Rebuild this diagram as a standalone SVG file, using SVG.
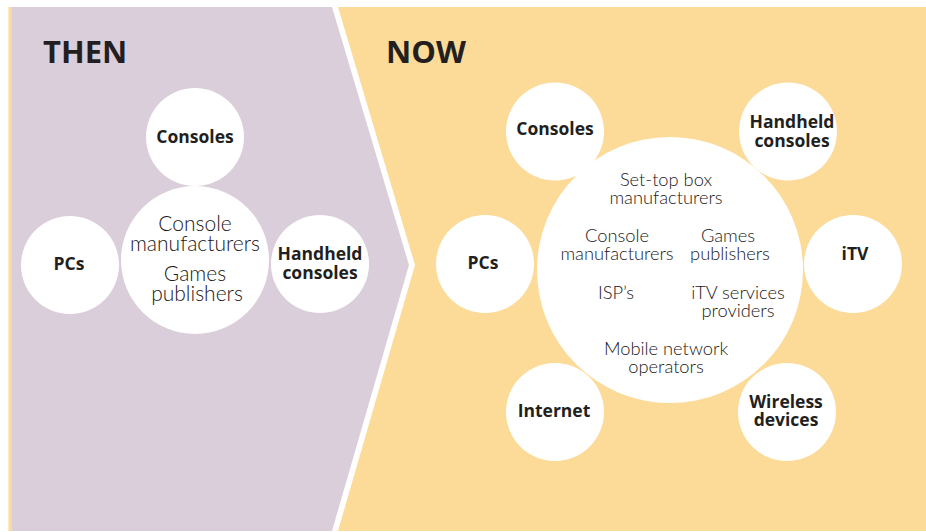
<svg xmlns="http://www.w3.org/2000/svg" width="926" height="532" viewBox="0 0 926 532">
<style>
.bg-y{fill:#FCDA98}
.bg-p{fill:#DBCEDB}
.c{fill:#FFFFFF}
.title{font-family:"Open Sans","Liberation Sans",sans-serif;font-weight:700;font-size:31px;fill:#231F20}
.lb{font-family:"Open Sans","Liberation Sans",sans-serif;font-weight:700;font-size:17.5px;fill:#231F20;text-anchor:middle}
.lt{font-family:"Lato","Open Sans","Liberation Sans",sans-serif;font-weight:300;fill:#1A1718;text-anchor:middle}
.lt1{font-size:21px}
.lt2{font-size:18.3px}
</style>
<rect x="0" y="0" width="926" height="532" fill="#FFFFFF"/>
<rect class="bg-y" x="8.5" y="7" width="917.5" height="524"/>
<polygon fill="#FFFFFF" points="12,7 338,7 415,265 338,531 12,531"/>
<polygon class="bg-p" points="12,7 332,7 409,265 332,531 12,531"/>

<text class="title" x="43" y="63">THEN</text>
<text class="title" x="386" y="63">NOW</text>

<g id="then-consoles"><circle class="c" cx="195" cy="137" r="49"/><text class="lb" x="195" y="143">Consoles</text></g>
<g id="then-center"><circle class="c" cx="195" cy="260" r="74"/>
<text class="lt lt1" x="195" y="231">Console</text>
<text class="lt lt1" x="195" y="251">manufacturers</text>
<text class="lt lt1" x="195" y="281">Games</text>
<text class="lt lt1" x="197" y="301">publishers</text></g>
<g id="then-pcs"><circle class="c" cx="70" cy="265" r="49"/><text class="lb" x="69" y="270">PCs</text></g>
<g id="then-handheld"><circle class="c" cx="320" cy="264" r="49"/><text class="lb" x="320" y="260">Handheld</text><text class="lb" x="320" y="279">consoles</text></g>

<g id="now-center"><circle class="c" cx="670" cy="270" r="133"/>
<text class="lt lt2" x="666" y="186">Set-top box</text>
<text class="lt lt2" x="666" y="204">manufacturers</text>
<text class="lt lt2" x="617" y="242">Console</text>
<text class="lt lt2" x="617" y="260">manufacturers</text>
<text class="lt lt2" x="728" y="242">Games</text>
<text class="lt lt2" x="730" y="260">publishers</text>
<text class="lt lt2" x="616" y="299">ISP’s</text>
<text class="lt lt2" x="738" y="299">iTV services</text>
<text class="lt lt2" x="738" y="317">providers</text>
<text class="lt lt2" x="666" y="355">Mobile network</text>
<text class="lt lt2" x="666" y="373">operators</text></g>
<g id="now-consoles"><circle class="c" cx="555" cy="131.5" r="49"/><text class="lb" x="555" y="135">Consoles</text></g>
<g id="now-handheld"><circle class="c" cx="788" cy="131.5" r="49"/><text class="lb" x="792" y="128">Handheld</text><text class="lb" x="792" y="147">consoles</text></g>
<g id="now-pcs"><circle class="c" cx="485" cy="264" r="49"/><text class="lb" x="483" y="269">PCs</text></g>
<g id="now-itv"><circle class="c" cx="853" cy="264" r="49"/><text class="lb" x="855" y="260">iTV</text></g>
<g id="now-internet"><circle class="c" cx="555" cy="412" r="49"/><text class="lb" x="554" y="417">Internet</text></g>
<g id="now-wireless"><circle class="c" cx="787" cy="412" r="49"/><text class="lb" x="786" y="408">Wireless</text><text class="lb" x="786" y="426">devices</text></g>
</svg>
